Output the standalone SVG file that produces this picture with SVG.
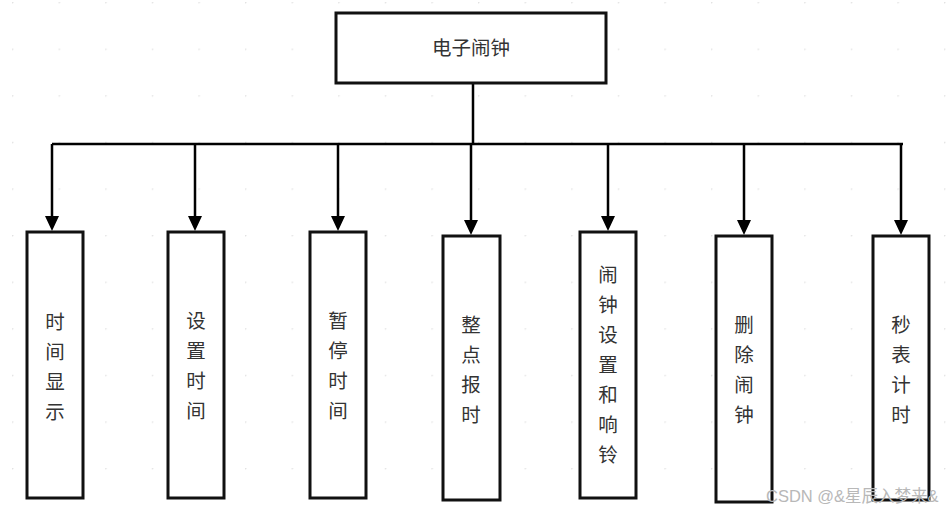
<svg xmlns="http://www.w3.org/2000/svg" width="947" height="511" viewBox="0 0 947 511">
<defs>
<pattern id="grid" x="12" y="2" width="46.6" height="46.6" patternUnits="userSpaceOnUse">
<circle cx="0.5" cy="0.5" r="1" fill="#e2e2e2"/>
</pattern>
</defs>
<style>
.box{fill:#fff;stroke:#111;stroke-width:3}
.t{font-family:"Liberation Sans","Noto Sans CJK SC",sans-serif;font-size:19.5px;fill:#333;text-anchor:middle}
.ln{fill:none;stroke:#000;stroke-width:2.5}
.ah{fill:#000}
.wm{font-family:"Liberation Sans","Noto Sans CJK SC",sans-serif;font-size:16.5px;fill:#b8b8b8}
</style>
<rect width="947" height="511" fill="#fff"/>
<rect width="947" height="511" fill="url(#grid)"/>
<g id="connectors">
<path class="ln" d="M473 83 V144 M52 144 H903"/>
<path class="ln" d="M52 144 V218 M195 144 V218 M338 144 V218 M471 144 V222 M608 144 V218 M744 144 V222 M901 144 V222"/>
<path class="ah" d="M45 216 L59 216 L52 231 Z M188 216 L202 216 L195 231 Z M331 216 L345 216 L338 231 Z M464 220 L478 220 L471 235 Z M601 216 L615 216 L608 231 Z M737 220 L751 220 L744 235 Z M894 220 L908 220 L901 235 Z"/>
</g>
<g id="root">
<rect class="box" x="336" y="13" width="270" height="70"/>
<text class="t" x="471" y="55">电子闹钟</text>
</g>
<g id="n1">
<rect class="box" x="27" y="232" width="56" height="266"/>
<text class="t"><tspan x="55" y="329">时</tspan><tspan x="55" y="359">间</tspan><tspan x="55" y="389">显</tspan><tspan x="55" y="419">示</tspan></text>
</g>
<g id="n2">
<rect class="box" x="168" y="232" width="56" height="266"/>
<text class="t"><tspan x="196" y="328">设</tspan><tspan x="196" y="358">置</tspan><tspan x="196" y="388">时</tspan><tspan x="196" y="418">间</tspan></text>
</g>
<g id="n3">
<rect class="box" x="310" y="232" width="56" height="266"/>
<text class="t"><tspan x="338" y="328">暂</tspan><tspan x="338" y="358">停</tspan><tspan x="338" y="388">时</tspan><tspan x="338" y="418">间</tspan></text>
</g>
<g id="n4">
<rect class="box" x="443" y="236" width="57" height="264"/>
<text class="t"><tspan x="471" y="332">整</tspan><tspan x="471" y="362">点</tspan><tspan x="471" y="392">报</tspan><tspan x="471" y="422">时</tspan></text>
</g>
<g id="n5">
<rect class="box" x="580" y="232" width="56" height="266"/>
<text class="t"><tspan x="608" y="282">闹</tspan><tspan x="608" y="312">钟</tspan><tspan x="608" y="342">设</tspan><tspan x="608" y="372">置</tspan><tspan x="608" y="402">和</tspan><tspan x="608" y="432">响</tspan><tspan x="608" y="462">铃</tspan></text>
</g>
<g id="n6">
<rect class="box" x="716" y="236" width="56" height="266"/>
<text class="t"><tspan x="744" y="332">删</tspan><tspan x="744" y="362">除</tspan><tspan x="744" y="392">闹</tspan><tspan x="744" y="422">钟</tspan></text>
</g>
<g id="n7">
<rect class="box" x="873" y="236" width="56" height="264"/>
<text class="t"><tspan x="901" y="332">秒</tspan><tspan x="901" y="362">表</tspan><tspan x="901" y="392">计</tspan><tspan x="901" y="422">时</tspan></text>
</g>
<text class="wm" x="766" y="502">CSDN @&amp;星辰入梦来&amp;</text>
</svg>
